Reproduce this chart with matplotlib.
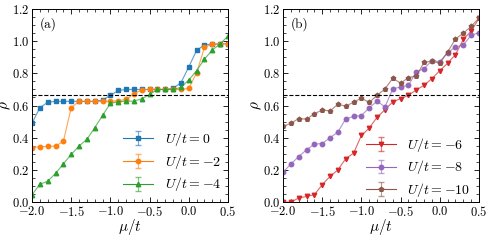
import matplotlib
matplotlib.use("Agg")
import matplotlib.pyplot as plt
import numpy as np

plt.rcParams['font.family'] = 'serif'
plt.rcParams['font.serif'] = ['cmr10', 'DejaVu Serif']
plt.rcParams['mathtext.fontset'] = 'cm'
plt.rcParams['axes.formatter.use_mathtext'] = True

mu = np.round(np.arange(-2.0, 0.51, 0.1), 2)

# panel (a)
rho_u0 = [0.49, 0.587, 0.62, 0.626, 0.626, 0.626, 0.626, 0.626, 0.626, 0.634,
          0.663, 0.694, 0.70, 0.70, 0.70, 0.70, 0.70, 0.70, 0.707, 0.742,
          0.841, 0.943, 0.978, 0.981, 0.982, 0.984]
rho_u2 = [0.338, 0.344, 0.346, 0.348, 0.377, 0.587, 0.626, 0.626, 0.626, 0.626,
          0.626, 0.63, 0.638, 0.672, 0.698, 0.70, 0.70, 0.70, 0.70, 0.70,
          0.707, 0.804, 0.962, 0.982, 0.984, 0.984]
rho_u4 = [0.046, 0.11, 0.13, 0.178, 0.238, 0.296, 0.348, 0.39, 0.462, 0.539,
          0.613, 0.624, 0.626, 0.628, 0.642, 0.669, 0.70, 0.70, 0.70, 0.713,
          0.759, 0.817, 0.889, 0.945, 0.984, 1.032]

# panel (b)
rho_u6 = [0.0, 0.0, 0.025, 0.035, 0.046, 0.108, 0.16, 0.20, 0.27, 0.304,
          0.414, 0.46, 0.528, 0.573, 0.623, 0.643, 0.664, 0.697, 0.726, 0.768,
          0.817, 0.863, 0.917, 1.012, 1.063, 1.142]
rho_u8 = [0.186, 0.236, 0.283, 0.325, 0.36, 0.364, 0.40, 0.435, 0.517, 0.532,
          0.538, 0.586, 0.627, 0.592, 0.703, 0.716, 0.726, 0.809, 0.83, 0.879,
          0.873, 0.929, 0.964, 0.977, 1.037, 1.053]
rho_u10 = [0.47, 0.49, 0.519, 0.515, 0.55, 0.571, 0.567, 0.608, 0.596, 0.621,
           0.646, 0.619, 0.664, 0.703, 0.77, 0.739, 0.774, 0.784, 0.869, 0.875,
           0.863, 0.933, 1.014, 1.05, 1.092, 1.144]

fig = plt.figure(figsize=(4.91, 2.4), dpi=100)
ax1 = fig.add_axes([0.0652, 0.158, 0.3992, 0.8045])
ax2 = fig.add_axes([0.5764, 0.158, 0.3992, 0.8045])

fmt = matplotlib.ticker.FuncFormatter(lambda v, p: r'$%.1f$' % v)


def draw(ax, series, tag, leg_kw):
    for y, color, marker, lab in series:
        ax.plot(mu, y, color=color, lw=0.8, alpha=0.7)
        ax.plot(mu, y, color=color, marker=marker, ms=3.2, ls='none')
        # legend proxy with error bar look
        eb = ax.errorbar([np.nan], [np.nan], yerr=[0.01], color=color, marker=marker,
                         ms=3.2, lw=0.8, capsize=2, elinewidth=0.8, label=lab)
        for c in list(eb[1]) + list(eb[2]):
            c.set_alpha(0.6)
    ax.axhline(2 / 3, color='black', ls='--', lw=0.8)
    ax.set_xlim(-2.0, 0.5)
    ax.set_ylim(0.0, 1.2)
    ax.set_xticks([-2.0, -1.5, -1.0, -0.5, 0.0, 0.5])
    ax.set_yticks([0.0, 0.2, 0.4, 0.6, 0.8, 1.0, 1.2])
    ax.xaxis.set_major_formatter(fmt)
    ax.yaxis.set_major_formatter(fmt)
    ax.xaxis.set_minor_locator(matplotlib.ticker.MultipleLocator(0.1))
    ax.yaxis.set_minor_locator(matplotlib.ticker.MultipleLocator(0.05))
    ax.tick_params(which='both', direction='in', top=True, right=True, labelsize=9, pad=2)
    ax.tick_params(which='major', length=3.5, width=0.6)
    ax.tick_params(which='minor', length=2, width=0.5)
    for s in ax.spines.values():
        s.set_linewidth(0.7)
    ax.set_xlabel(r'$\mu/t$', fontsize=11, labelpad=-1)
    ax.set_ylabel(r'$\rho$', fontsize=11)
    ax.yaxis.set_label_coords(-0.095, 0.5)
    ax.text(0.04, 0.96, tag, transform=ax.transAxes, fontsize=9.5, va='top', ha='left')
    ax.legend(frameon=False, fontsize=10, handlelength=2.2,
              labelspacing=0.35, handletextpad=0.8, **leg_kw)


draw(ax1, [(rho_u0, 'tab:blue', 's', r'$U/t=0$'),
           (rho_u2, 'tab:orange', 'o', r'$U/t=-2$'),
           (rho_u4, 'tab:green', '^', r'$U/t=-4$')], '(a)',
     dict(loc='lower left', bbox_to_anchor=(0.4, -0.02)))
draw(ax2, [(rho_u6, 'tab:red', 'v', r'$U/t=-6$'),
           (rho_u8, 'tab:purple', 'o', r'$U/t=-8$'),
           (rho_u10, 'tab:brown', 'p', r'$U/t=-10$')], '(b)',
     dict(loc='lower right', bbox_to_anchor=(1.02, -0.05)))

fig.savefig('out.png', dpi=100)
